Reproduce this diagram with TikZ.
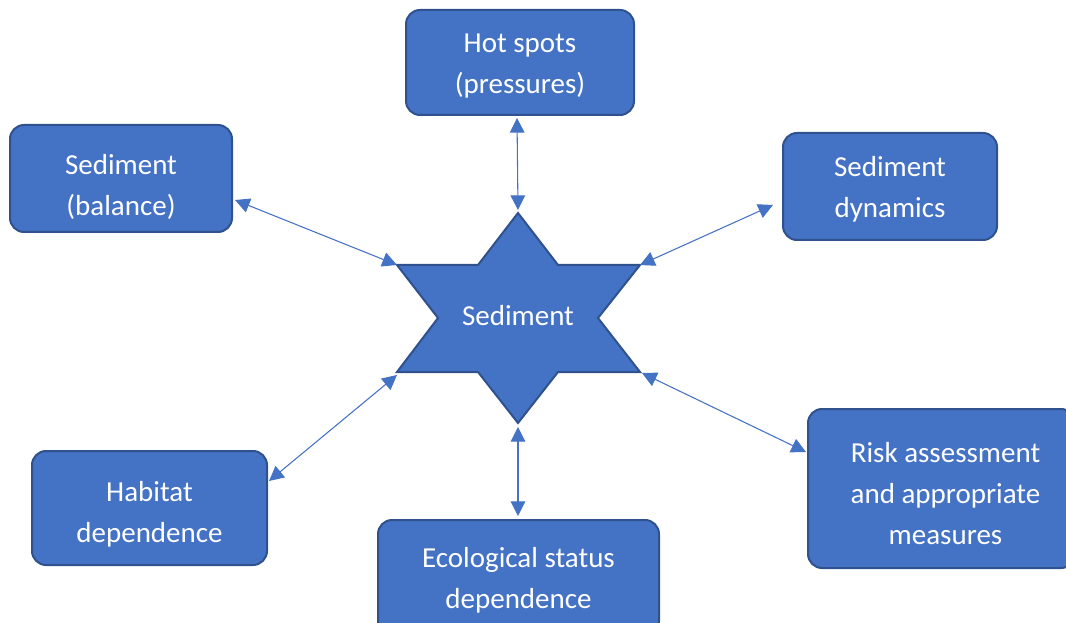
\documentclass[tikz,border=0pt]{standalone}
\usepackage{fontspec}
\setmainfont{Carlito}
\usetikzlibrary{arrows.meta,calc}
\definecolor{obox}{HTML}{4472C4}
\definecolor{oedge}{HTML}{2F528F}
\tikzset{
  boxnode/.style={draw=oedge, fill=obox, line width=1.5pt, rounded corners=10.5pt,
    text=white, align=center, inner sep=0pt,
    font=\fontsize{21.75pt}{30.75pt}\selectfont},
  textshift/.style={text height=#1, text depth=4pt},
  link/.style={draw=obox, line width=0.8pt,
    {Triangle[length=11pt,width=11pt]}-{Triangle[length=11pt,width=11pt]}},
  starshape/.style={draw=oedge, fill=obox, line width=1.5pt, line join=miter}
}
\begin{document}
\begin{tikzpicture}[x=0.75pt,y=-0.75pt]
\useasboundingbox (0,0) rectangle (1066,623);
\clip (0,0) rectangle (1066,623);
% star
\coordinate (st) at (518,213);
\coordinate (sur) at (640,265);
\coordinate (slr) at (640,372);
\coordinate (sb) at (518,423);
\coordinate (sll) at (397,372);
\coordinate (sul) at (397,265);
\path[starshape] (st) -- (558,265) -- (sur) -- (598,318) -- (slr) -- (558,372)
  -- (sb) -- (478,372) -- (sll) -- (438,318) -- (sul) -- (478,265) -- cycle;
\node[text=white, font=\fontsize{21.75pt}{30.75pt}\selectfont] (sed) at (518,316) {Sediment};
% boxes
\node[boxnode, textshift=50.55pt, minimum width=171pt, minimum height=78.75pt] (hot) at (520,62.5) {Hot spots\\(pressures)};
\node[boxnode, textshift=59.55pt, minimum width=166.5pt, minimum height=80.25pt] (bal) at (121,178.5) {Sediment\\(balance)};
\node[boxnode, textshift=51.25pt, minimum width=160.5pt, minimum height=80.25pt] (dyn) at (890,186.5) {Sediment\\dynamics};
\node[boxnode, textshift=55.75pt, minimum width=176.25pt, minimum height=85.5pt] (hab) at (149.5,508) {Habitat\\dependence};
\node[boxnode, textshift=49.75pt, minimum width=210.75pt, minimum height=86.25pt] (eco) at (518.5,577.5) {Ecological status\\dependence};
\node[boxnode, textshift=88pt, minimum width=200.25pt, minimum height=119.25pt] (risk) at (941.5,488.5) {\hspace*{6pt}Risk assessment\\\hspace*{6pt}and appropriate\\\hspace*{6pt}measures};
% connectors
\draw[link] ($(st |- hot.south)+(-1,2)$) -- ($(st)+(0,-3)$);
\draw[link] ($(bal.east)+(2,21.5)$) -- (sul);
\draw[link] (sur) -- ($(dyn.west)+(-9,18.5)$);
\draw[link] ($(hab.east)+(1,-27)$) -- ($(sll)+(0,3)$);
\draw[link] ($(sb)+(0,4)$) -- ($(st |- eco.north)+(0,-3)$);
\draw[link] ($(slr)+(2,1)$) -- ($(risk.west)+(-1,-36.5)$);
\end{tikzpicture}
\end{document}
